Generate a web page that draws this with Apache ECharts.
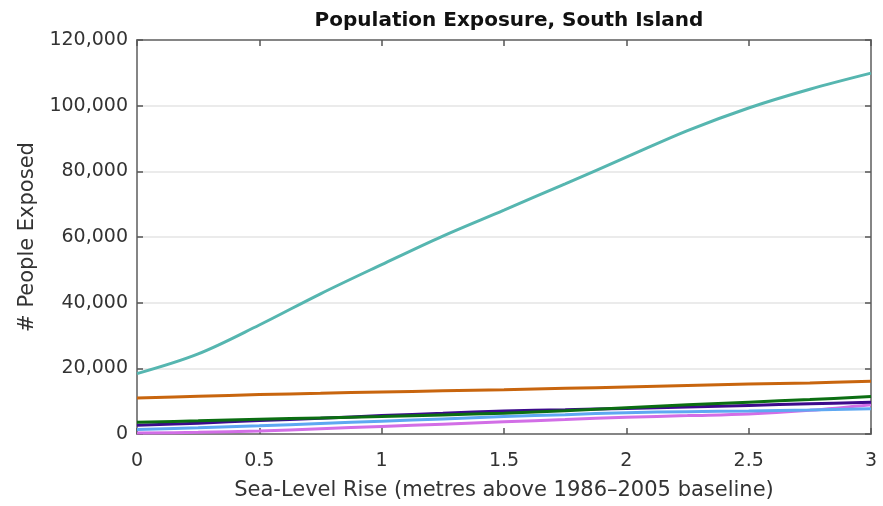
<!DOCTYPE html>
<html>
<head>
<meta charset="utf-8">
<script src="https://cdn.jsdelivr.net/npm/echarts@6/dist/echarts.min.js"></script>
<style>
  html, body { margin: 0; padding: 0; background: #fff; }
  #chart { width: 883px; height: 506px; }
</style>
</head>
<body>
<div id="chart"></div>
<script>
// Sea-level rise steps (metres above 1986-2005 baseline)
const seaLevelRise = [0, 0.25, 0.5, 0.75, 1, 1.25, 1.5, 1.75, 2, 2.25, 2.5, 2.75, 3];

// People exposed for each scenario line
const tealSeries    = [18400, 24400, 33200, 42700, 51600, 60300, 68200, 76200, 84300, 92400, 99300, 105000, 109900];
const orangeSeries  = [11000, 11500, 12000, 12400, 12800, 13150, 13500, 13900, 14300, 14750, 15200, 15550, 16100];
const greenSeries   = [3600, 4000, 4500, 4900, 5300, 5800, 6350, 7100, 8000, 8900, 9700, 10500, 11400];
const indigoSeries  = [2700, 3300, 4100, 4800, 5600, 6300, 7000, 7400, 7800, 8200, 8700, 9200, 9700];
const blueSeries    = [1400, 1900, 2500, 3200, 3900, 4600, 5300, 5900, 6500, 6800, 7000, 7300, 7700];
const violetSeries  = [300, 500, 900, 1600, 2300, 3000, 3700, 4400, 5100, 5600, 6100, 7200, 8900];

// Axis tick values
const yTicks = [0, 20000, 40000, 60000, 80000, 100000, 120000];
const xTicks = [0, 0.5, 1, 1.5, 2, 2.5, 3];

const lines = [
  { name: 'teal',   data: tealSeries,   color: '#56b6b0' },
  { name: 'orange', data: orangeSeries, color: '#c8650e' },
  { name: 'green',  data: greenSeries,  color: '#0b6e12' },
  { name: 'indigo', data: indigoSeries, color: '#3c0a8c' },
  { name: 'blue',   data: blueSeries,   color: '#5ea8f2' },
  { name: 'violet', data: violetSeries, color: '#d26ee6' }
];

const chart = echarts.init(document.getElementById('chart'), null, { renderer: 'canvas' });

const font = '"DejaVu Sans", Verdana, sans-serif';
const frame = { show: true, onZero: false, lineStyle: { color: '#858585', width: 2 } };
const tick = { show: true, inside: true, length: 6, lineStyle: { color: '#555', width: 1.5 } };

chart.setOption({
  animation: false,
  textStyle: { fontFamily: font },
  title: {
    text: 'Population Exposure, South Island',
    left: 504, top: 6, textAlign: 'center',
    textStyle: { fontSize: 20, fontWeight: 'bold', color: '#111', fontFamily: font }
  },
  grid: { left: 137, right: 12, top: 40, bottom: 69, containLabel: false },
  xAxis: [
    {
      type: 'value', min: 0, max: 3, interval: 0.5,
      name: 'Sea-Level Rise (metres above 1986\u20132005 baseline)',
      nameLocation: 'middle', nameGap: 46,
      nameTextStyle: { fontSize: 21, color: '#333', fontFamily: font },
      axisLine: frame,
      axisTick: tick,
      axisLabel: { fontSize: 19, color: '#333', margin: 18, fontFamily: font,
        formatter: v => String(v) },
      splitLine: { show: false }
    },
    {
      type: 'value', min: 0, max: 3, interval: 0.5, position: 'top',
      axisLine: frame,
      axisTick: tick,
      axisLabel: { show: false },
      splitLine: { show: false }
    }
  ],
  yAxis: [
    {
      type: 'value', min: 0, max: 120000, interval: 20000,
      name: '# People Exposed',
      nameLocation: 'middle', nameGap: 96, nameRotate: 90,
      nameTextStyle: { fontSize: 21, color: '#333', fontFamily: font },
      axisLine: frame,
      axisTick: tick,
      axisLabel: { fontSize: 19, color: '#333', margin: 9, fontFamily: font,
        formatter: v => v.toLocaleString('en-US') },
      splitLine: { show: true, lineStyle: { color: '#e4e4e4', width: 1.5 } }
    },
    {
      type: 'value', min: 0, max: 120000, interval: 20000, position: 'right',
      axisLine: frame,
      axisTick: tick,
      axisLabel: { show: false },
      splitLine: { show: false }
    }
  ],
  series: lines.slice().reverse().map(s => ({
    name: s.name,
    type: 'line',
    smooth: 0.35,
    showSymbol: false,
    symbol: 'none',
    clip: true,
    data: s.data.map((v, i) => [seaLevelRise[i], v]),
    lineStyle: { color: s.color, width: 3 },
    itemStyle: { color: s.color }
  }))
});
</script>
</body>
</html>
